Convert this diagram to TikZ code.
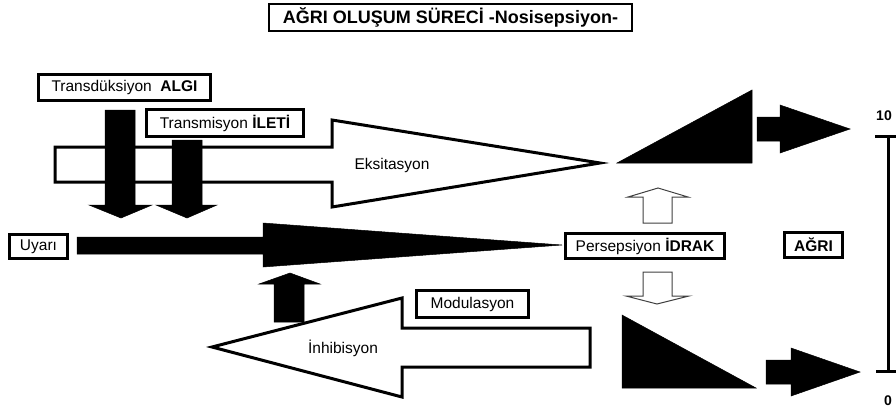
\documentclass[tikz,border=0pt]{standalone}
\usepackage{fontspec}
\setmainfont{Liberation Sans}
\begin{document}
\begin{tikzpicture}[x=1pt,y=-1pt,
  lbl/.style={draw=black,fill=white,line width=3pt,inner sep=0pt,
    font=\fontsize{15.5}{17}\selectfont,align=center},
  blk/.style={fill=black,draw=black,line width=0.5pt,line join=miter},
  bigopen/.style={draw=black,fill=white,line width=3pt,line join=miter},
  thinopen/.style={draw=black!75,fill=white,line width=1pt,line join=miter},
  scl/.style={line width=3pt,draw=black},
  num/.style={font=\fontsize{14}{16}\selectfont\bfseries,inner sep=0pt}]
\useasboundingbox (0,0) rectangle (896,413);

% title
\node[draw=black,line width=1.5pt,inner sep=0pt,minimum width=363pt,minimum height=27pt,
  font=\fontsize{18}{20}\selectfont\bfseries] (title) at (450.5,17.5) {AĞRI OLUŞUM SÜRECİ -Nosisepsiyon-};

% Eksitasyon open arrow
\draw[bigopen] (55,147) -- (332,147) -- (332,120) -- (600,163) -- (332,207) -- (332,182) -- (55,182) -- cycle;
\node[font=\fontsize{15.5}{17}\selectfont,inner sep=0pt] (eks) at (392,165) {Eksitasyon};

% Inhibisyon open arrow
\draw[bigopen] (590,328) -- (402,328) -- (402,298) -- (212,347) -- (402,397) -- (402,367) -- (590,367) -- cycle;
\node[font=\fontsize{15.5}{17}\selectfont,inner sep=0pt] (inh) at (343,348) {İnhibisyon};

% black down arrows
\fill[blk] (105,110) -- (135,110) -- (135,205) -- (152,205) -- (121,218) -- (89,205) -- (105,205) -- cycle;
\fill[blk] (172,140) -- (202,140) -- (202,205) -- (217,205) -- (187,218) -- (156,205) -- (172,205) -- cycle;

% main black arrow (Uyari)
\fill[blk] (77,237) -- (263,237) -- (263,223) -- (562,245) -- (263,267) -- (263,254) -- (77,254) -- cycle;

% black up arrow
\fill[blk] (274,322) -- (274,284) -- (259,284) -- (290,273) -- (320,284) -- (304,284) -- (304,322) -- cycle;

% open thin arrows
\draw[thinopen] (643,223) -- (643,197) -- (628,197) -- (658,188) -- (688,197) -- (672,197) -- (672,223) -- cycle;
\draw[thinopen] (643,272) -- (643,296) -- (626,296) -- (657,304) -- (689,296) -- (672,296) -- (672,272) -- cycle;

% black triangles
\fill[blk] (617,163) -- (752,163) -- (752,90) -- cycle;
\fill[blk] (622,315) -- (622,388) -- (756,388) -- cycle;

% right black arrows
\fill[blk] (757,117) -- (780,117) -- (780,105) -- (850,129) -- (780,153) -- (780,141) -- (757,141) -- cycle;
\fill[blk] (766,360) -- (791,360) -- (791,348) -- (860,372) -- (791,396) -- (791,384) -- (766,384) -- cycle;

% scale
\coordinate (st) at (888,136);
\coordinate (sb) at (888,371);
\draw[scl] (st) -- (sb);
\draw[scl] (875,136) -- (896,136);
\draw[scl] (876,371) -- (896,371);
\node[num] (ten) at (884,116) {10};
\node[num] (zero) at (888,401) {0};

% label boxes
\node[lbl,minimum width=172pt,minimum height=26pt] (trd) at (124.5,87.5) {Transdüksiyon\ \ \textbf{ALGI}};
\node[lbl,minimum width=157pt,minimum height=27pt] (trm) at (225,123) {Transmisyon \textbf{İLETİ}};
\node[lbl,minimum width=58pt,minimum height=24pt] (uya) at (38.5,246.5) {Uyarı};
\node[lbl,minimum width=159pt,minimum height=25pt] (per) at (645,246) {Persepsiyon \textbf{İDRAK}};
\node[lbl,minimum width=58pt,minimum height=25pt,font=\fontsize{15.5}{17}\selectfont\bfseries] (agr) at (813.5,245) {AĞRI};
\node[lbl,minimum width=112pt,minimum height=27pt] (mod) at (472.5,304) {Modulasyon};
\end{tikzpicture}
\end{document}
